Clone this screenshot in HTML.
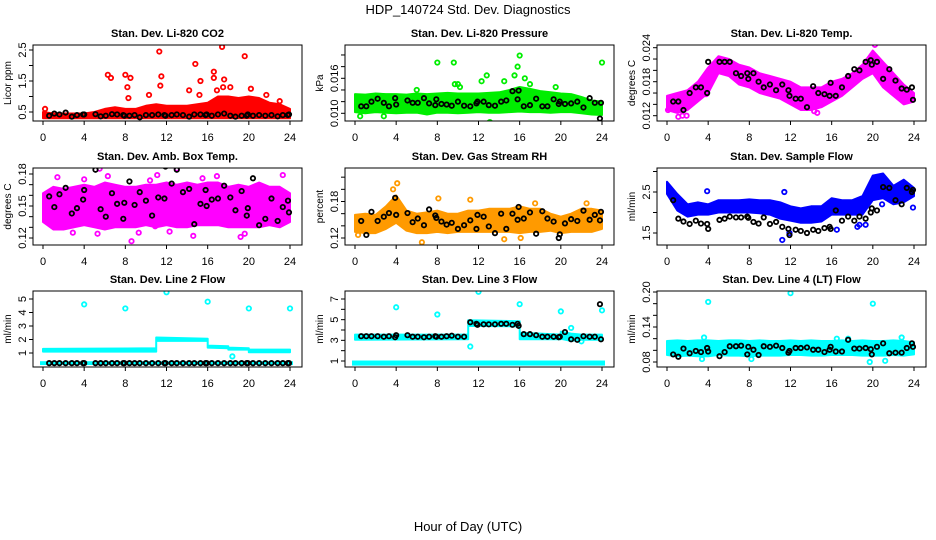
<!DOCTYPE html>
<html><head><meta charset="utf-8"><style>
html,body{margin:0;padding:0;background:#fff;}
svg{display:block;font-family:"Liberation Sans",Arial,sans-serif;}
</style></head><body>
<svg id="chart" width="936" height="540" viewBox="0 0 936 540" xmlns="http://www.w3.org/2000/svg">
<text x="468" y="14" text-anchor="middle" font-size="13">HDP_140724  Std. Dev. Diagnostics</text>
<text x="468" y="531" text-anchor="middle" font-size="13">Hour of Day (UTC)</text>
</svg>
<script>
const xTicks = [0,4,8,12,16,20,24];
const blkX = [0.6,1.1,1.6,2.2,2.8,3.3,3.9,4.0,5.1,5.6,6.1,6.7,7.2,7.8,7.9,8.4,8.9,9.4,10.0,10.6,11.2,11.8,11.9,12.5,13.0,13.6,14.2,14.7,15.3,15.8,15.9,16.4,17.0,17.6,18.2,18.7,19.3,19.8,19.9,20.4,21.0,21.6,22.2,22.8,23.3,23.8,23.9];
const hours = [0,1,2,3,4,5,6,7,8,9,10,11,12,13,14,15,16,17,18,19,20,21,22,23,24];

const p1Lo = [0.3,0.3,0.3,0.3,0.3,0.3,0.3,0.3,0.3,0.3,0.3,0.3,0.3,0.3,0.3,0.3,0.3,0.3,0.3,0.3,0.3,0.3,0.3,0.3,0.3];
const p1Hi = [0.5,0.45,0.45,0.45,0.45,0.5,0.6,0.65,0.6,0.6,0.7,0.75,0.7,0.7,0.7,0.75,0.8,1.0,1.0,0.95,1.0,0.95,0.8,0.75,0.6];
const p1OutX = [6.3,6.6,8,8.2,8.5,8.3,10.3,11.3,11.5,11.4,14.2,14.8,15.3,15.2,16.6,16.6,16.9,17.4,17.6,17.5,18.2,19.6,20.2,21.7,23,0.2];
const p1OutY = [1.7,1.6,1.7,1.3,1.6,0.95,1.05,2.45,1.65,1.35,1.2,2.05,1.5,1.05,1.8,1.6,1.2,2.6,1.55,1.3,1.3,2.3,1.25,1.05,0.85,0.6];
const p1Blk = [0.38,0.45,0.42,0.48,0.35,0.4,0.42,0.42,0.43,0.36,0.38,0.43,0.42,0.4,0.38,0.38,0.4,0.33,0.4,0.4,0.42,0.4,0.38,0.4,0.42,0.4,0.35,0.42,0.42,0.4,0.42,0.38,0.42,0.45,0.38,0.35,0.38,0.38,0.42,0.38,0.4,0.38,0.4,0.36,0.4,0.4,0.42];

const p2Lo = [0.0102,0.0100,0.0102,0.0101,0.0100,0.0101,0.0101,0.0098,0.0101,0.0101,0.0100,0.0101,0.0102,0.0101,0.0101,0.0102,0.0103,0.0102,0.0102,0.0101,0.0102,0.0102,0.0100,0.0098,0.0097];
const p2Hi = [0.0133,0.0132,0.0134,0.0133,0.0133,0.0132,0.0134,0.0133,0.0134,0.0135,0.0134,0.0134,0.0134,0.0135,0.0136,0.0140,0.0145,0.0142,0.0138,0.0136,0.0134,0.0133,0.0128,0.0122,0.0120];
const p2OutX = [8,9.6,9.7,10,10.2,12.3,12.8,13.1,14.5,15.5,15.8,16,16.5,17,19.5,6,24,0.5,2.8];
const p2OutY = [0.0187,0.0187,0.0150,0.0150,0.0145,0.0155,0.0165,0.0085,0.0155,0.0165,0.0180,0.0199,0.0160,0.0150,0.0145,0.0140,0.0187,0.0095,0.0095];
const p2Blk = [0.0112,0.0112,0.0120,0.0125,0.0118,0.0112,0.0126,0.0115,0.0122,0.0118,0.0118,0.0126,0.0117,0.0114,0.0124,0.0116,0.0115,0.0113,0.0120,0.0113,0.0112,0.0117,0.0120,0.0120,0.0114,0.0113,0.0120,0.0122,0.0138,0.0124,0.0139,0.0112,0.0114,0.0125,0.0112,0.0112,0.0124,0.0116,0.0120,0.0116,0.0117,0.0120,0.0110,0.0126,0.0118,0.0091,0.0118];

const p3Lo = [0.013,0.0125,0.013,0.0145,0.016,0.0195,0.019,0.0175,0.017,0.016,0.0155,0.015,0.014,0.013,0.013,0.0135,0.0145,0.0155,0.017,0.0185,0.0195,0.017,0.0155,0.014,0.0145];
const p3Hi = [0.0155,0.016,0.0165,0.018,0.0205,0.0225,0.022,0.021,0.0205,0.0195,0.019,0.0185,0.018,0.017,0.017,0.017,0.018,0.0185,0.0195,0.021,0.0235,0.0215,0.0195,0.0175,0.016];
const p3OutX = [0.1,1.1,1.5,1.9,14.3,14.6,20.2,3.8];
const p3OutY = [0.0130,0.0118,0.0120,0.0120,0.0128,0.0125,0.0245,0.0158];
const p3Blk = [0.0145,0.0145,0.013,0.016,0.017,0.017,0.016,0.0215,0.0215,0.0215,0.0215,0.0195,0.019,0.0195,0.0185,0.0195,0.018,0.017,0.0175,0.0165,0.0175,0.0165,0.0155,0.015,0.015,0.0135,0.0172,0.016,0.0158,0.0155,0.0178,0.0155,0.017,0.019,0.0202,0.02,0.0215,0.0218,0.021,0.0215,0.0185,0.0202,0.0182,0.0168,0.0166,0.017,0.0148];

const p4Lo = [0.135,0.128,0.128,0.13,0.132,0.13,0.128,0.13,0.13,0.13,0.132,0.13,0.132,0.13,0.13,0.132,0.132,0.132,0.13,0.13,0.13,0.13,0.132,0.13,0.135];
const p4Hi = [0.162,0.168,0.166,0.168,0.17,0.168,0.172,0.17,0.168,0.168,0.17,0.17,0.172,0.17,0.172,0.17,0.172,0.172,0.168,0.17,0.168,0.172,0.168,0.168,0.162];
const p4OutX = [1.4,2.9,5.3,5.5,6.3,8.6,9.3,10.4,11.1,12.3,13.0,14.0,14.6,15.5,16.9,19.2,19.6,23.3,4.0,10.9];
const p4OutY = [0.177,0.125,0.124,0.185,0.178,0.117,0.125,0.174,0.179,0.126,0.185,0.189,0.122,0.176,0.178,0.121,0.124,0.179,0.175,0.131];
const p4Blk = [0.159,0.149,0.161,0.167,0.143,0.148,0.156,0.165,0.184,0.147,0.14,0.162,0.152,0.138,0.153,0.173,0.151,0.163,0.155,0.141,0.158,0.157,0.187,0.171,0.184,0.163,0.166,0.133,0.152,0.165,0.15,0.156,0.157,0.169,0.158,0.146,0.164,0.141,0.148,0.176,0.132,0.138,0.157,0.136,0.149,0.155,0.144];

const p5Lo = [0.13,0.128,0.128,0.135,0.145,0.132,0.128,0.128,0.13,0.128,0.13,0.13,0.13,0.13,0.13,0.13,0.128,0.13,0.13,0.132,0.128,0.13,0.13,0.13,0.135];
const p5Hi = [0.158,0.16,0.158,0.172,0.19,0.165,0.16,0.162,0.165,0.16,0.16,0.165,0.165,0.168,0.168,0.168,0.172,0.168,0.168,0.16,0.155,0.16,0.168,0.168,0.165];
const p5OutX = [3.9,4.1,3.7,8.1,11.2,6.5,14.5,16.1,17.5,22.5,0.3];
const p5OutY = [0.24,0.21,0.2,0.185,0.183,0.113,0.118,0.12,0.177,0.177,0.125];
const p5Blk = [0.148,0.125,0.163,0.148,0.155,0.161,0.186,0.158,0.161,0.146,0.152,0.141,0.167,0.157,0.153,0.147,0.142,0.145,0.135,0.141,0.149,0.135,0.158,0.155,0.139,0.128,0.16,0.135,0.16,0.15,0.171,0.152,0.162,0.127,0.164,0.152,0.147,0.12,0.126,0.144,0.151,0.148,0.165,0.15,0.158,0.149,0.163];

const p6Lo = [2.45,2.05,1.9,1.95,1.95,2.0,2.0,2.0,2.0,1.98,1.95,1.85,1.8,1.75,1.75,1.78,1.95,1.95,1.95,1.95,2.3,2.35,2.2,2.25,2.4];
const p6Hi = [2.75,2.45,2.2,2.25,2.2,2.3,2.3,2.3,2.32,2.3,2.3,2.25,2.15,2.1,2.15,2.15,2.35,2.3,2.3,2.4,2.9,2.95,2.65,2.8,2.6];
const p6OutX = [3.9,11.2,11.4,16.5,18.5,18.7,19.3,20.9,23.9,11.9];
const p6OutY = [2.52,1.33,2.5,1.58,1.65,1.7,1.7,2.2,2.12,1.5];
const p6Blk = [2.3,1.85,1.78,1.72,1.8,1.73,1.72,1.6,1.82,1.85,1.9,1.88,1.88,1.9,1.87,1.77,1.73,1.88,1.72,1.77,1.65,1.6,1.45,1.58,1.55,1.5,1.58,1.55,1.62,1.65,1.6,2.05,1.8,1.9,1.8,1.9,1.85,2.0,2.1,2.05,2.62,2.6,2.3,2.2,2.6,2.5,2.55];

const p7BX = [0,11,11,16,16,18,18,20,20,24];
const p7Lo = [1.1,1.1,1.9,1.9,1.4,1.35,1.25,1.25,1.05,1.05];
const p7Hi = [1.3,1.35,2.15,2.05,1.55,1.5,1.4,1.35,1.25,1.25];
const p7BaseLo = 0.18;
const p7BaseHi = 0.32;
const p7OutX = [4,8,12,16,20,24,18.4];
const p7OutY = [4.6,4.3,5.5,4.8,4.3,4.3,0.75];
const p7Blk = [0.25,0.25,0.25,0.25,0.25,0.25,0.25,0.25,0.25,0.25,0.25,0.25,0.25,0.25,0.25,0.25,0.25,0.25,0.25,0.25,0.25,0.25,0.25,0.25,0.25,0.25,0.25,0.25,0.25,0.25,0.25,0.25,0.25,0.25,0.25,0.25,0.25,0.25,0.25,0.25,0.25,0.25,0.25,0.25,0.25,0.25,0.25];

const p8BX = [0,11,11,16,16,20,20,21,22,24];
const p8Lo = [3.05,3.1,4.4,4.35,3.1,3.1,3.15,2.95,3.05,3.05];
const p8Hi = [3.55,3.55,4.95,4.85,3.75,3.55,3.85,3.65,3.55,3.55];
const p8BaseLo = 0.65;
const p8BaseHi = 0.95;
const p8OutX = [4,8,12,16,20,24,11.2,21,22];
const p8OutY = [6.2,5.5,7.7,6.5,5.8,5.9,2.4,4.2,2.9];
const p8Blk = [3.4,3.4,3.4,3.4,3.35,3.4,3.3,3.5,3.5,3.35,3.35,3.3,3.35,3.4,3.35,3.35,3.4,3.45,3.35,3.35,4.75,4.6,4.5,4.55,4.55,4.55,4.6,4.6,4.5,4.6,4.4,3.6,3.6,3.5,3.35,3.35,3.35,3.3,3.35,3.8,3.1,3.05,3.4,3.35,3.35,6.5,3.1];

const p9Lo = [0.092,0.09,0.091,0.09,0.09,0.092,0.091,0.091,0.09,0.091,0.091,0.091,0.092,0.092,0.091,0.091,0.092,0.092,0.092,0.091,0.091,0.091,0.092,0.091,0.093];
const p9Hi = [0.116,0.117,0.116,0.117,0.117,0.116,0.117,0.117,0.116,0.117,0.116,0.116,0.117,0.116,0.117,0.116,0.116,0.117,0.116,0.117,0.116,0.116,0.117,0.116,0.114];
const p9OutX = [4,12,20,19.7,21.2,22.8,17.6,3.6,16.5,3.4,8.2];
const p9OutY = [0.183,0.198,0.18,0.08,0.082,0.122,0.12,0.122,0.12,0.085,0.085];
const p9Blk = [0.093,0.089,0.103,0.095,0.099,0.097,0.104,0.098,0.09,0.097,0.107,0.107,0.108,0.093,0.106,0.101,0.092,0.107,0.106,0.108,0.104,0.096,0.099,0.104,0.104,0.105,0.101,0.101,0.097,0.101,0.106,0.098,0.098,0.118,0.103,0.103,0.104,0.102,0.093,0.106,0.112,0.095,0.096,0.096,0.104,0.112,0.106];

const NS = "http://www.w3.org/2000/svg";
const svg = document.getElementById('chart');
function mk(tag, attrs, parent){ const e=document.createElementNS(NS,tag); for(const k in attrs) e.setAttribute(k,attrs[k]); (parent||svg).appendChild(e); return e; }

const colX0 = [43,355,667];
const rowTop = [45,168,291];
const rowBot = [121,245,367];

const panels = [
 {name:'co2',title:'Stan. Dev. Li-820 CO2',ylab:'Licor ppm',col:0,row:0,color:'#ff0000',ymin:0.5,ymax:2.5,ymaxPx:50,yminPx:112,ticks:[0.5,1,1.5,2,2.5],labels:['0.5','','1.5','','2.5'],bx:hours,lo:p1Lo,hi:p1Hi,ox:p1OutX,oy:p1OutY,blk:p1Blk},
 {name:'pressure',title:'Stan. Dev. Li-820 Pressure',ylab:'kPa',col:1,row:0,color:'#00ee00',ymin:0.010,ymax:0.016,yminPx:113.3,ymaxPx:78.3,ticks:[0.010,0.012,0.014,0.016,0.018,0.020],labels:['0.010','','','0.016','',''],bx:hours,lo:p2Lo,hi:p2Hi,ox:p2OutX,oy:p2OutY,blk:p2Blk},
 {name:'li820-temp',title:'Stan. Dev. Li-820 Temp.',ylab:'degrees C',col:2,row:0,color:'#ff00ff',ymin:0.012,ymax:0.024,yminPx:115.7,ymaxPx:47.7,ticks:[0.012,0.014,0.016,0.018,0.020,0.022,0.024],labels:['0.012','','','0.018','','','0.024'],bx:hours,lo:p3Lo,hi:p3Hi,ox:p3OutX,oy:p3OutY,blk:p3Blk},
 {name:'amb-box-temp',title:'Stan. Dev. Amb. Box Temp.',ylab:'degrees C',col:0,row:1,color:'#ff00ff',ymin:0.12,ymax:0.18,yminPx:238,ymaxPx:174,ticks:[0.12,0.13,0.14,0.15,0.16,0.17,0.18,0.19],labels:['0.12','','','0.15','','','0.18',''],bx:hours,lo:p4Lo,hi:p4Hi,ox:p4OutX,oy:p4OutY,blk:p4Blk},
 {name:'gas-stream-rh',title:'Stan. Dev. Gas Stream RH',ylab:'percent',col:1,row:1,color:'#ff9a00',ymin:0.12,ymax:0.24,yminPx:238,ymaxPx:165,ticks:[0.12,0.14,0.16,0.18,0.20,0.22,0.24],labels:['0.12','','','0.18','','','0.24'],bx:hours,lo:p5Lo,hi:p5Hi,ox:p5OutX,oy:p5OutY,blk:p5Blk},
 {name:'sample-flow',title:'Stan. Dev. Sample Flow',ylab:'ml/min',col:2,row:1,color:'#0000ff',ymin:1.5,ymax:2.5,yminPx:233,ymaxPx:192,ticks:[1.5,2,2.5,3],labels:['1.5','','2.5',''],bx:hours,lo:p6Lo,hi:p6Hi,ox:p6OutX,oy:p6OutY,blk:p6Blk},
 {name:'line2-flow',title:'Stan. Dev. Line 2 Flow',ylab:'ml/min',col:0,row:2,color:'#00ffff',ymin:1,ymax:5,yminPx:353,ymaxPx:299,ticks:[1,2,3,4,5],labels:['1','2','3','4','5'],bx:p7BX,lo:p7Lo,hi:p7Hi,baseLo:p7BaseLo,baseHi:p7BaseHi,ox:p7OutX,oy:p7OutY,blk:p7Blk},
 {name:'line3-flow',title:'Stan. Dev. Line 3 Flow',ylab:'ml/min',col:1,row:2,color:'#00ffff',ymin:1,ymax:7,yminPx:361,ymaxPx:299,ticks:[1,2,3,4,5,6,7],labels:['1','','3','','5','','7'],bx:p8BX,lo:p8Lo,hi:p8Hi,baseLo:p8BaseLo,baseHi:p8BaseHi,ox:p8OutX,oy:p8OutY,blk:p8Blk},
 {name:'line4-flow',title:'Stan. Dev. Line 4 (LT) Flow',ylab:'ml/min',col:2,row:2,color:'#00ffff',ymin:0.08,ymax:0.20,yminPx:362,ymaxPx:292,ticks:[0.08,0.10,0.12,0.14,0.16,0.18,0.20],labels:['0.08','','','0.14','','','0.20'],bx:hours,lo:p9Lo,hi:p9Hi,ox:p9OutX,oy:p9OutY,blk:p9Blk}
];

panels.forEach(p=>{
  const x0 = colX0[p.col], top=rowTop[p.row], bot=rowBot[p.row];
  const left = x0-10, right = x0+259;
  const xs = h => x0 + h*247/24;
  const ys = v => p.yminPx + (v-p.ymin)*(p.ymaxPx-p.yminPx)/(p.ymax-p.ymin);
  const g = mk('g',{});
  
  
  const clip = mk('clipPath',{id:'c-'+p.name},g);
  mk('rect',{x:left,y:top,width:right-left,height:bot-top},clip);
  const plot = mk('g',{'clip-path':'url(#c-'+p.name+')'},g);
  let pts=[];
  p.bx.forEach((h,i)=>pts.push(xs(h).toFixed(1)+','+ys(p.hi[i]).toFixed(1)));
  for(let i=p.bx.length-1;i>=0;i--) pts.push(xs(p.bx[i]).toFixed(1)+','+ys(p.lo[i]).toFixed(1));
  const band = mk('polygon',{points:pts.join(' '),fill:p.color,stroke:p.color,'stroke-width':2,'stroke-linejoin':'round'},plot);
  
  
  if(p.baseLo!==undefined){
    const b2 = mk('rect',{x:xs(0)-2,y:ys(p.baseHi),width:xs(24)-xs(0)+4,height:ys(p.baseLo)-ys(p.baseHi),fill:p.color,stroke:p.color,'stroke-width':2},plot);
    
    
  }
  p.ox.forEach((h,i)=>{
    const c = mk('circle',{cx:xs(h),cy:ys(p.oy[i]),r:2.2,fill:'none',stroke:p.color,'stroke-width':1.8},plot);
    
    
  });
  blkX.forEach((h,i)=>{
    const c = mk('circle',{cx:xs(h),cy:ys(p.blk[i]),r:2.2,fill:'none',stroke:'#000','stroke-width':1.8},plot);
    
    
  });
  mk('rect',{x:left,y:top,width:right-left,height:bot-top,fill:'none',stroke:'#000','stroke-width':1},g);
  xTicks.forEach(t=>{
    mk('line',{x1:xs(t),x2:xs(t),y1:bot,y2:bot+4,stroke:'#000'},g);
    const tx = mk('text',{x:xs(t),y:bot+20,'text-anchor':'middle','font-size':11},g);
    tx.textContent=t;
    
    
  });
  p.ticks.forEach((t,i)=>{
    const y = ys(t);
    if(y<top-1||y>bot+1) return;
    mk('line',{x1:left,x2:left-4,y1:y,y2:y,stroke:'#000'},g);
    if(p.labels[i]){
      const tx = mk('text',{x:left-7,y:y,'text-anchor':'middle','font-size':11,transform:'rotate(-90 '+(left-7)+' '+y+')'},g);
      tx.textContent=p.labels[i];
      
      
    }
  });
  const ttl = mk('text',{x:(left+right)/2,y:top-8,'text-anchor':'middle','font-size':11,'font-weight':'bold'},g);
  ttl.textContent=p.title;
  
  
  const yl = mk('text',{x:left-22,y:(top+bot)/2,'text-anchor':'middle','font-size':10,transform:'rotate(-90 '+(left-22)+' '+((top+bot)/2)+')'},g);
  yl.textContent=p.ylab;
  
  
});
</script>
</body></html>
